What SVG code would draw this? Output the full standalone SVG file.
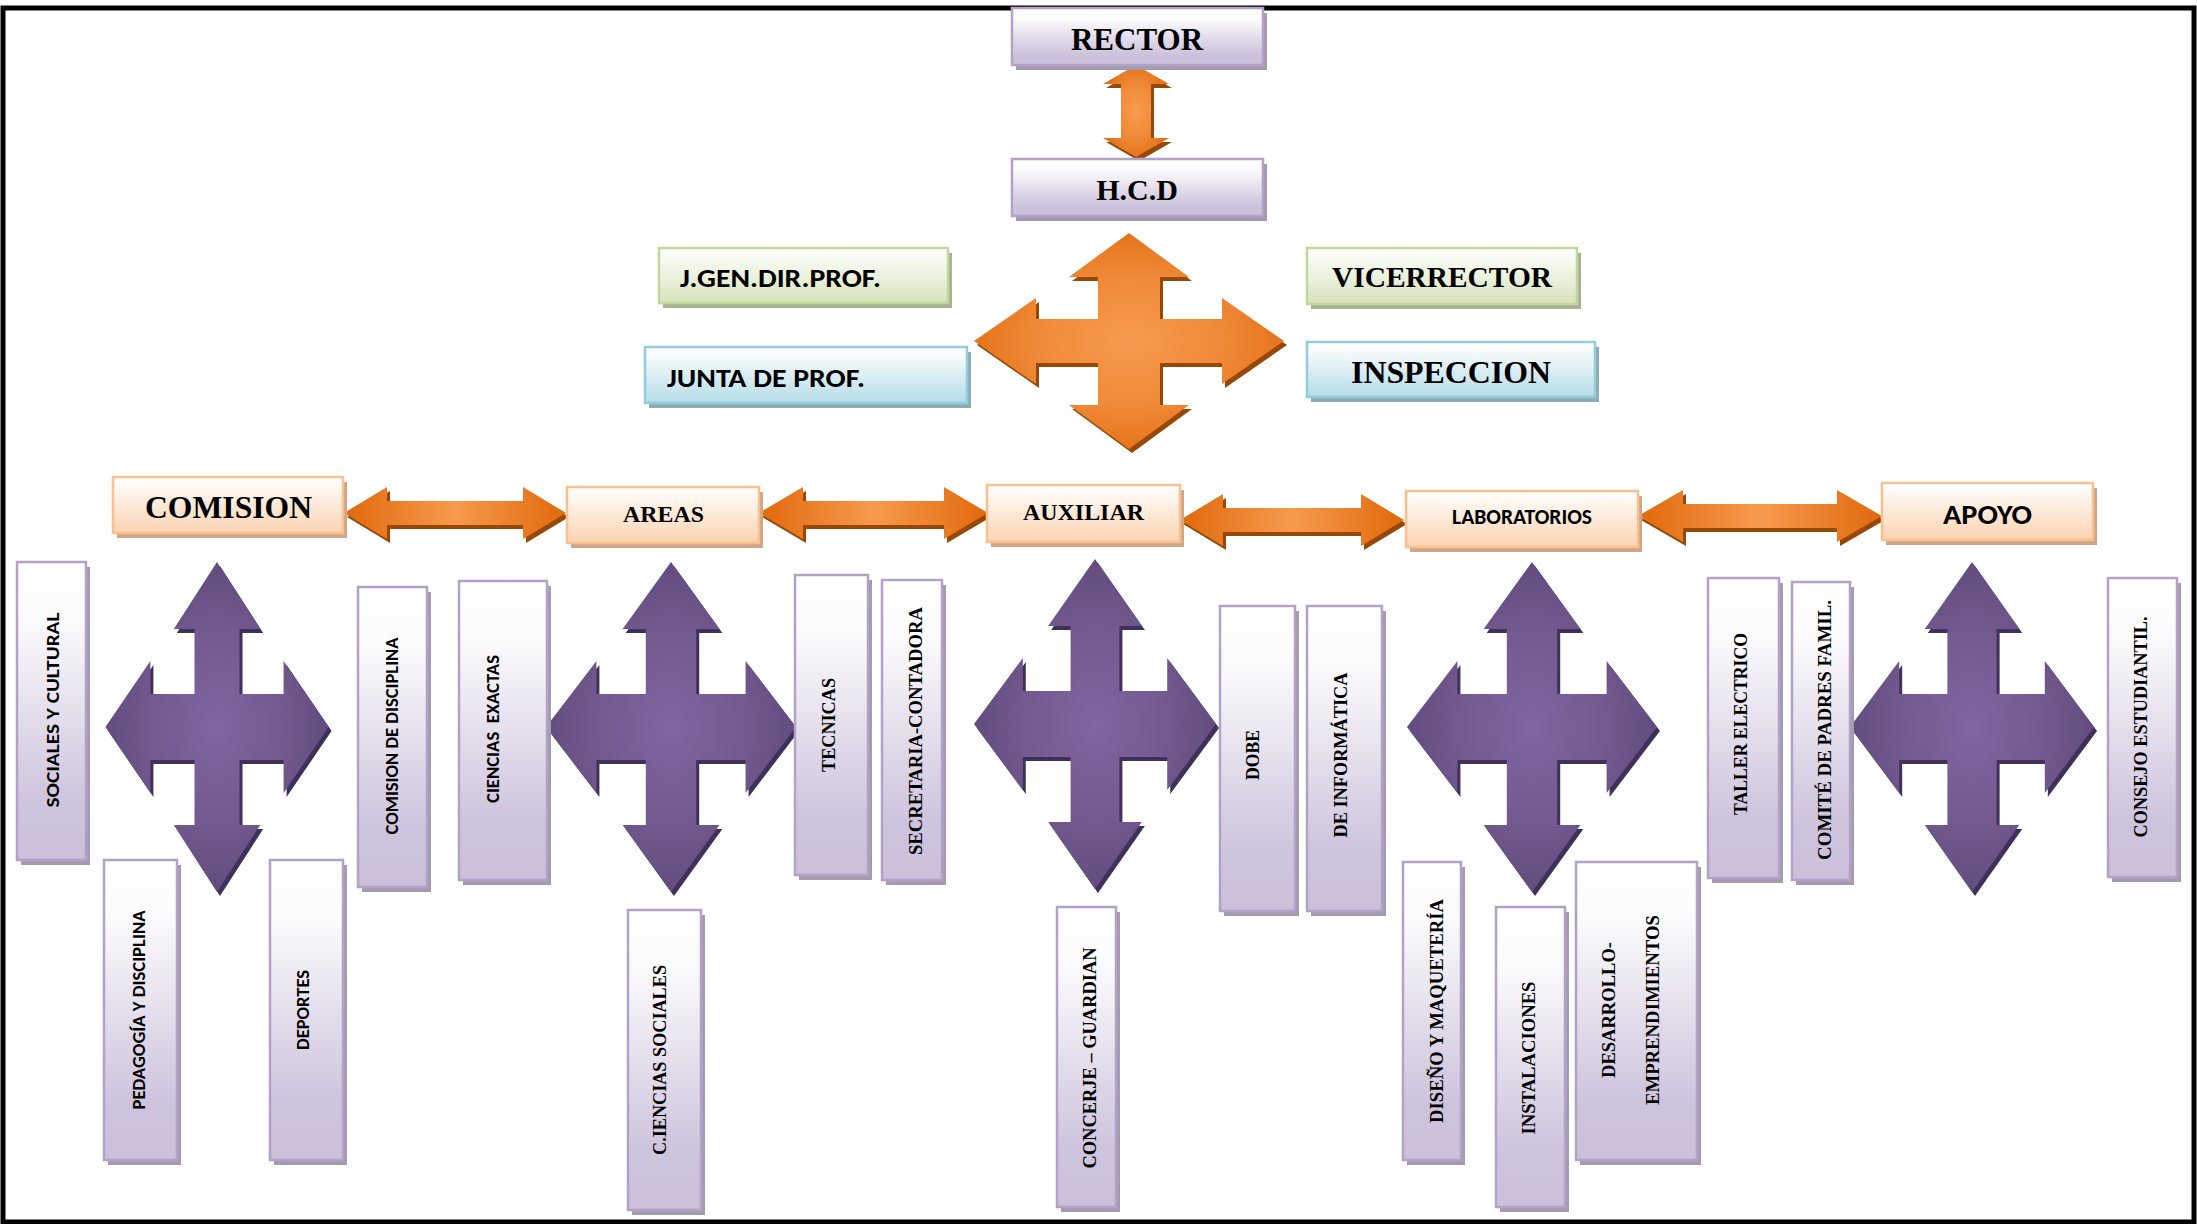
<svg xmlns="http://www.w3.org/2000/svg" xmlns:xlink="http://www.w3.org/1999/xlink" width="2197" height="1224" viewBox="0 0 2197 1224">
<style>
.frame{fill:#fff;stroke:#000;stroke-width:5}
.bp{fill:url(#gP);stroke:#b3a2c7;stroke-width:2.5}
.sp{fill:#a49bb0}
.bo{fill:url(#gO);stroke:#fac08f;stroke-width:2.5}
.so{fill:#cfa688}
.bg{fill:url(#gG);stroke:#c3d69b;stroke-width:2.5}
.sg{fill:#a9b195}
.bb{fill:url(#gB);stroke:#93cddd;stroke-width:2.5}
.sb{fill:#8eaab2}
.ts{font-family:"Liberation Serif","Times New Roman",serif;font-weight:bold;fill:#000}
.tc{font-family:Carlito,"Open Sans","Liberation Sans",sans-serif;font-weight:bold;fill:#000}
.ah{fill:url(#gAh)}
.ashd{fill:#974806}
.pq{fill:url(#gPq)}
.pqs{fill:#3f3159}
</style>
<defs>
<linearGradient id="gP" x1="0" y1="0" x2="0" y2="1"><stop offset="0" stop-color="#ffffff"/><stop offset="0.2" stop-color="#fbfafc"/><stop offset="0.8" stop-color="#cfc4dd"/><stop offset="1" stop-color="#cbbfda"/></linearGradient>
<linearGradient id="gO" x1="0" y1="0" x2="0" y2="1"><stop offset="0" stop-color="#ffffff"/><stop offset="0.15" stop-color="#fff9f4"/><stop offset="1" stop-color="#fbd3b1"/></linearGradient>
<linearGradient id="gG" x1="0" y1="0" x2="0" y2="1"><stop offset="0" stop-color="#ffffff"/><stop offset="0.15" stop-color="#fafcf6"/><stop offset="1" stop-color="#d6e3bc"/></linearGradient>
<linearGradient id="gB" x1="0" y1="0" x2="0" y2="1"><stop offset="0" stop-color="#ffffff"/><stop offset="0.15" stop-color="#f7fbfc"/><stop offset="1" stop-color="#b5dce7"/></linearGradient>
<linearGradient id="gAh" x1="0" y1="0" x2="1" y2="0"><stop offset="0" stop-color="#e0690c"/><stop offset="0.5" stop-color="#f79a4d"/><stop offset="1" stop-color="#e0690c"/></linearGradient>
<radialGradient id="gAr" cx="0.5" cy="0.5" r="0.6"><stop offset="0" stop-color="#f79a4d"/><stop offset="0.5" stop-color="#f08a38"/><stop offset="1" stop-color="#e0690c"/></radialGradient>
<radialGradient id="gPq" cx="0.5" cy="0.5" r="0.6"><stop offset="0" stop-color="#8066a2"/><stop offset="0.5" stop-color="#72598f"/><stop offset="1" stop-color="#5a4677"/></radialGradient>
<path id="qa" d="M0,-165 L48,-98 L25,-98 L25,-33 L74,-33 L74,-66 L124,0 L74,66 L74,33 L25,33 L25,98 L48,98 L0,165 L-48,98 L-25,98 L-25,33 L-74,33 L-74,66 L-124,0 L-74,-66 L-74,-33 L-25,-33 L-25,-98 L-48,-98 Z"/>
<path id="oq" d="M0,-108 L60,-64 L31,-64 L31,-22 L93,-22 L93,-43 L155,0 L93,43 L93,22 L31,22 L31,64 L60,64 L0,108 L-60,64 L-31,64 L-31,22 L-93,22 L-93,43 L-155,0 L-93,-43 L-93,-22 L-31,-22 L-31,-64 L-60,-64 Z"/>
</defs>
<rect class="frame" x="3" y="8" width="2191" height="1214"/>

<g id="connectors">
  <path class="ashd" transform="translate(3,4)" d="M1136,65 L1169,84 L1151,84 L1151,138 L1169,138 L1136,157 L1103,138 L1121,138 L1121,84 L1103,84 Z"/>
  <path fill="url(#gAr)" d="M1136,65 L1169,84 L1151,84 L1151,138 L1169,138 L1136,157 L1103,138 L1121,138 L1121,84 L1103,84 Z"/>
  <use href="#oq" class="ashd" transform="translate(1132,345)"/>
  <use href="#oq" fill="url(#gAr)" transform="translate(1129,341)"/>
  <path class="ashd" transform="translate(3,4)" d="M344,513 L387,487 L387,501 L523,501 L523,487 L566,513 L523,539 L523,525 L387,525 L387,539 Z"/>
  <path class="ah" d="M344,513 L387,487 L387,501 L523,501 L523,487 L566,513 L523,539 L523,525 L387,525 L387,539 Z"/>
  <path class="ashd" transform="translate(3,4)" d="M759,513 L803,487 L803,501 L944,501 L944,487 L988,513 L944,539 L944,525 L803,525 L803,539 Z"/>
  <path class="ah" d="M759,513 L803,487 L803,501 L944,501 L944,487 L988,513 L944,539 L944,525 L803,525 L803,539 Z"/>
  <path class="ashd" transform="translate(3,4)" d="M1180,520 L1223,494 L1223,508 L1361,508 L1361,494 L1404,520 L1361,546 L1361,532 L1223,532 L1223,546 Z"/>
  <path class="ah" d="M1180,520 L1223,494 L1223,508 L1361,508 L1361,494 L1404,520 L1361,546 L1361,532 L1223,532 L1223,546 Z"/>
  <path class="ashd" transform="translate(3,4)" d="M1638,516 L1683,490 L1683,504 L1837,504 L1837,490 L1882,516 L1837,542 L1837,528 L1683,528 L1683,542 Z"/>
  <path class="ah" d="M1638,516 L1683,490 L1683,504 L1837,504 L1837,490 L1882,516 L1837,542 L1837,528 L1683,528 L1683,542 Z"/>
  <use href="#qa" class="pqs" transform="translate(220,731) scale(0.9,1)"/>
  <use href="#qa" class="pq" transform="translate(217,727) scale(0.9,1)"/>
  <use href="#qa" class="pqs" transform="translate(674,731) scale(1.008,1)"/>
  <use href="#qa" class="pq" transform="translate(671,727) scale(1.008,1)"/>
  <use href="#qa" class="pqs" transform="translate(1098,728) scale(0.976,1)"/>
  <use href="#qa" class="pq" transform="translate(1095,724) scale(0.976,1)"/>
  <use href="#qa" class="pqs" transform="translate(1535,731) scale(1.008,1)"/>
  <use href="#qa" class="pq" transform="translate(1532,727) scale(1.008,1)"/>
  <use href="#qa" class="pqs" transform="translate(1975,731) scale(0.984,1)"/>
  <use href="#qa" class="pq" transform="translate(1972,727) scale(0.984,1)"/>
</g>

<g id="rector"><rect class="sp" x="1016" y="13" width="251" height="57"/><rect class="bp" x="1012" y="8" width="251" height="57"/><text class="ts" x="1137" y="50" font-size="31" text-anchor="middle">RECTOR</text></g>
<g id="hcd"><rect class="sp" x="1016" y="164" width="251" height="57"/><rect class="bp" x="1012" y="159" width="251" height="57"/><text class="ts" x="1137" y="200" font-size="30" text-anchor="middle">H.C.D</text></g>
<g id="jgen"><rect class="sg" x="663" y="253" width="289" height="55"/><rect class="bg" x="659" y="248" width="289" height="55"/><text class="tc" x="680" y="287" font-size="27" textLength="201" lengthAdjust="spacingAndGlyphs">J.GEN.DIR.PROF.</text></g>
<g id="junta"><rect class="sb" x="649" y="352" width="322" height="56"/><rect class="bb" x="645" y="347" width="322" height="56"/><text class="tc" x="667" y="387" font-size="27" textLength="198" lengthAdjust="spacingAndGlyphs">JUNTA DE PROF.</text></g>
<g id="vicerrector"><rect class="sg" x="1311" y="253" width="270" height="56"/><rect class="bg" x="1307" y="248" width="270" height="56"/><text class="ts" x="1332" y="287" font-size="29" textLength="220" lengthAdjust="spacingAndGlyphs">VICERRECTOR</text></g>
<g id="inspeccion"><rect class="sb" x="1311" y="347" width="288" height="55"/><rect class="bb" x="1307" y="342" width="288" height="55"/><text class="ts" x="1351" y="383" font-size="32" textLength="200" lengthAdjust="spacingAndGlyphs">INSPECCION</text></g>

<g id="comision"><rect class="so" x="117" y="482" width="230" height="56"/><rect class="bo" x="113" y="477" width="230" height="56"/><text class="ts" x="145" y="518" font-size="32" textLength="167" lengthAdjust="spacingAndGlyphs">COMISION</text></g>
<g id="areas"><rect class="so" x="571" y="492" width="192" height="56"/><rect class="bo" x="567" y="487" width="192" height="56"/><text class="ts" x="623" y="522" font-size="24" textLength="81" lengthAdjust="spacingAndGlyphs">AREAS</text></g>
<g id="auxiliar"><rect class="so" x="991" y="490" width="193" height="57"/><rect class="bo" x="987" y="485" width="193" height="57"/><text class="ts" x="1023" y="520" font-size="24" textLength="121" lengthAdjust="spacingAndGlyphs">AUXILIAR</text></g>
<g id="laboratorios"><rect class="so" x="1410" y="496" width="232" height="56"/><rect class="bo" x="1406" y="491" width="232" height="56"/><text class="tc" x="1452" y="524" font-size="23" textLength="140" lengthAdjust="spacingAndGlyphs">LABORATORIOS</text></g>
<g id="apoyo"><rect class="so" x="1886" y="488" width="211" height="57"/><rect class="bo" x="1882" y="483" width="211" height="57"/><text class="tc" x="1943" y="524" font-size="28" textLength="89" lengthAdjust="spacingAndGlyphs">APOYO</text></g>

<g id="sociales"><rect class="sp" x="21" y="567" width="69" height="298"/><rect class="bp" x="17" y="562" width="69" height="298"/><text class="tc" font-size="19" text-anchor="middle" transform="translate(59,710) rotate(-90)" textLength="195" lengthAdjust="spacingAndGlyphs">SOCIALES Y CULTURAL</text></g>
<g id="comision-disciplina"><rect class="sp" x="362" y="592" width="69" height="300"/><rect class="bp" x="358" y="587" width="69" height="300"/><text class="tc" font-size="19" text-anchor="middle" transform="translate(398,736) rotate(-90)" textLength="197" lengthAdjust="spacingAndGlyphs">COMISION DE DISCIPLINA</text></g>
<g id="ciencias-exactas"><rect class="sp" x="463" y="586" width="88" height="299"/><rect class="bp" x="459" y="581" width="88" height="299"/><text class="tc" font-size="19" text-anchor="middle" xml:space="preserve" style="white-space:pre" transform="translate(499,729) rotate(-90)" textLength="148" lengthAdjust="spacingAndGlyphs">CIENCIAS  EXACTAS</text></g>
<g id="pedagogia"><rect class="sp" x="108" y="865" width="73" height="300"/><rect class="bp" x="104" y="860" width="73" height="300"/><text class="tc" font-size="19" text-anchor="middle" transform="translate(145,1010) rotate(-90)" textLength="199" lengthAdjust="spacingAndGlyphs">PEDAGOGÍA Y DISCIPLINA</text></g>
<g id="deportes"><rect class="sp" x="274" y="865" width="73" height="300"/><rect class="bp" x="270" y="860" width="73" height="300"/><text class="tc" font-size="19" text-anchor="middle" transform="translate(309,1010) rotate(-90)" textLength="80" lengthAdjust="spacingAndGlyphs">DEPORTES</text></g>
<g id="tecnicas"><rect class="sp" x="799" y="580" width="73" height="300"/><rect class="bp" x="795" y="575" width="73" height="300"/><text class="ts" font-size="18" text-anchor="middle" transform="translate(835,725) rotate(-90)" textLength="94" lengthAdjust="spacingAndGlyphs">TECNICAS</text></g>
<g id="secretaria"><rect class="sp" x="886" y="585" width="60" height="300"/><rect class="bp" x="882" y="580" width="60" height="300"/><text class="ts" font-size="18" text-anchor="middle" transform="translate(922,731) rotate(-90)" textLength="248" lengthAdjust="spacingAndGlyphs">SECRETARIA-CONTADORA</text></g>
<g id="ciencias-sociales"><rect class="sp" x="632" y="915" width="73" height="300"/><rect class="bp" x="628" y="910" width="73" height="300"/><text class="ts" font-size="18" text-anchor="middle" transform="translate(666,1060) rotate(-90)" textLength="190" lengthAdjust="spacingAndGlyphs">C.IENCIAS SOCIALES</text></g>
<g id="concerje"><rect class="sp" x="1061" y="912" width="59" height="300"/><rect class="bp" x="1057" y="907" width="59" height="300"/><text class="ts" font-size="18" text-anchor="middle" transform="translate(1096,1058) rotate(-90)" textLength="221" lengthAdjust="spacingAndGlyphs">CONCERJE – GUARDIAN</text></g>
<g id="dobe"><rect class="sp" x="1224" y="611" width="75" height="305"/><rect class="bp" x="1220" y="606" width="75" height="305"/><text class="ts" font-size="18" text-anchor="middle" transform="translate(1259,755) rotate(-90)" textLength="50" lengthAdjust="spacingAndGlyphs">DOBE</text></g>
<g id="informatica"><rect class="sp" x="1311" y="611" width="75" height="305"/><rect class="bp" x="1307" y="606" width="75" height="305"/><text class="ts" font-size="18" text-anchor="middle" transform="translate(1347,755) rotate(-90)" textLength="165" lengthAdjust="spacingAndGlyphs">DE INFORMÁTICA</text></g>
<g id="diseno"><rect class="sp" x="1407" y="867" width="58" height="298"/><rect class="bp" x="1403" y="862" width="58" height="298"/><text class="ts" font-size="18" text-anchor="middle" transform="translate(1443,1011) rotate(-90)" textLength="224" lengthAdjust="spacingAndGlyphs">DISEÑO Y MAQUETERÍA</text></g>
<g id="instalaciones"><rect class="sp" x="1500" y="912" width="69" height="300"/><rect class="bp" x="1496" y="907" width="69" height="300"/><text class="ts" font-size="18" text-anchor="middle" transform="translate(1535,1058) rotate(-90)" textLength="153" lengthAdjust="spacingAndGlyphs">INSTALACIONES</text></g>
<g id="desarrollo"><rect class="sp" x="1580" y="867" width="121" height="298"/><rect class="bp" x="1576" y="862" width="121" height="298"/><text class="ts" font-size="18" text-anchor="middle" transform="translate(1615,1010) rotate(-90)" textLength="136" lengthAdjust="spacingAndGlyphs">DESARROLLO-</text><text class="ts" font-size="18" text-anchor="middle" transform="translate(1659,1010) rotate(-90)" textLength="190" lengthAdjust="spacingAndGlyphs">EMPRENDIMIENTOS</text></g>
<g id="taller"><rect class="sp" x="1712" y="583" width="71" height="300"/><rect class="bp" x="1708" y="578" width="71" height="300"/><text class="ts" font-size="18" text-anchor="middle" transform="translate(1747,724) rotate(-90)" textLength="182" lengthAdjust="spacingAndGlyphs">TALLER ELECTRICO</text></g>
<g id="comite"><rect class="sp" x="1796" y="587" width="58" height="298"/><rect class="bp" x="1792" y="582" width="58" height="298"/><text class="ts" font-size="18" text-anchor="middle" transform="translate(1831,730) rotate(-90)" textLength="260" lengthAdjust="spacingAndGlyphs">COMITÉ DE PADRES FAMIL.</text></g>
<g id="consejo"><rect class="sp" x="2112" y="583" width="69" height="299"/><rect class="bp" x="2108" y="578" width="69" height="299"/><text class="ts" font-size="18" text-anchor="middle" transform="translate(2147,727) rotate(-90)" textLength="221" lengthAdjust="spacingAndGlyphs">CONSEJO ESTUDIANTIL.</text></g>
</svg>
